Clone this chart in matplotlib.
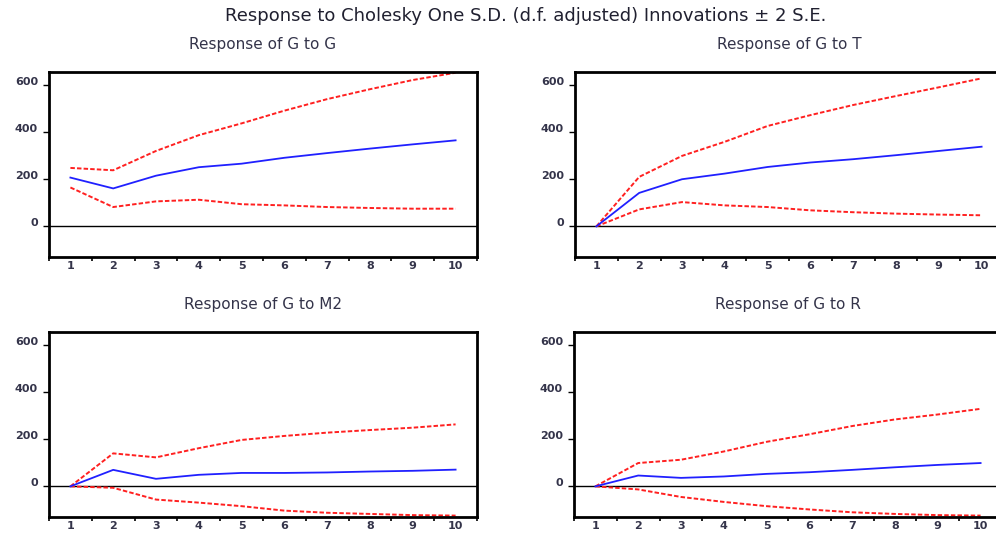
import matplotlib
matplotlib.use("Agg")
import matplotlib.pyplot as plt

plt.rcParams['font.family'] = ['DejaVu Sans']

periods = [1, 2, 3, 4, 5, 6, 7, 8, 9, 10]
xtick_labels = ["1", "2", "3", "4", "5", "6", "7", "8", "9", "10"]
yticks = [0, 200, 400, 600]

main_title = "Response to Cholesky One S.D. (d.f. adjusted) Innovations \u00b1 2 S.E."
panel_titles = ["Response of G to G", "Response of G to T",
                "Response of G to M2", "Response of G to R"]

g_to_g = [207, 161, 215, 251, 266, 291, 311, 330, 348, 365]
g_to_g_up = [248, 238, 320, 387, 437, 491, 540, 582, 621, 652]
g_to_g_lo = [165, 82, 106, 113, 94, 89, 82, 78, 75, 75]

g_to_t = [0, 142, 200, 224, 252, 271, 285, 302, 320, 338]
g_to_t_up = [0, 210, 299, 359, 426, 472, 515, 553, 590, 628]
g_to_t_lo = [0, 72, 103, 89, 82, 68, 60, 54, 50, 47]

g_to_m2 = [0, 70, 32, 49, 57, 57, 59, 63, 66, 71]
g_to_m2_up = [0, 140, 123, 162, 197, 214, 228, 239, 249, 263]
g_to_m2_lo = [0, -6, -56, -69, -84, -103, -112, -117, -122, -124]

g_to_r = [0, 46, 36, 42, 53, 60, 70, 81, 91, 99]
g_to_r_up = [0, 99, 113, 148, 189, 221, 256, 284, 305, 329]
g_to_r_lo = [0, -13, -45, -66, -84, -98, -110, -117, -122, -124]

panels = [
    (g_to_g, g_to_g_up, g_to_g_lo),
    (g_to_t, g_to_t_up, g_to_t_lo),
    (g_to_m2, g_to_m2_up, g_to_m2_lo),
    (g_to_r, g_to_r_up, g_to_r_lo),
]

W, H = 996, 535
fig = plt.figure(figsize=(W / 100, H / 100), dpi=100)

# axes boxes in pixels: (left, top, right, bottom)
boxes = [(49, 72, 477, 257), (575, 72, 1003, 257),
         (49, 332, 477, 517), (574, 332, 1002, 517)]
title_y = [45, 45, 305, 305]

text_color = "#34344a"

for i, ((mid, up, lo), (l, t, r, b)) in enumerate(zip(panels, boxes)):
    ax = fig.add_axes([l / W, 1 - b / H, (r - l) / W, (b - t) / H])
    ax.axhline(0, color="black", lw=1.0, zorder=1)
    ax.plot(periods, up, color="#ff2020", lw=1.4, ls=(0, (2.3, 1.1)), zorder=2)
    ax.plot(periods, lo, color="#ff2020", lw=1.4, ls=(0, (2.3, 1.1)), zorder=2)
    ax.plot(periods, mid, color="#2020ff", lw=1.3, zorder=3)
    ax.set_xlim(0.5, 10.5)
    ax.set_ylim(-130, 655)
    ax.set_yticks(yticks)
    ax.set_yticklabels([str(v) for v in yticks])
    ax.set_xticks(periods)
    ax.set_xticklabels(xtick_labels)
    ax.set_xticks([p + 0.5 for p in [0] + periods], minor=True)
    ax.tick_params(axis="x", which="major", length=0, pad=3,
                   labelsize=8, labelcolor=text_color)
    ax.tick_params(axis="x", which="minor", length=3, width=1.2, direction="out")
    ax.tick_params(axis="y", which="major", length=4, width=1.0, direction="out",
                   pad=4, labelsize=8, labelcolor=text_color)
    for lab in ax.get_xticklabels() + ax.get_yticklabels():
        lab.set_fontweight("bold")
    for lab in ax.get_yticklabels():
        lab.set_verticalalignment("baseline")
    for s in ax.spines.values():
        s.set_linewidth(2.0)
        s.set_color("black")
    fig.text(((l + r) / 2) / W, 1 - title_y[i] / H, panel_titles[i],
             ha="center", va="center", fontsize=11, color=text_color)

fig.text(526 / W, 1 - 16 / H, main_title, ha="center", va="center",
         fontsize=13, color="#202030")

fig.savefig("out.png", dpi=100)
